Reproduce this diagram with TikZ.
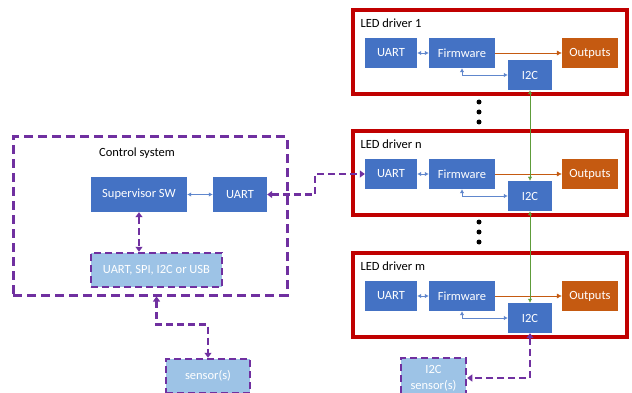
\documentclass[tikz,border=0pt]{standalone}
\usepackage{fontspec}
\setmainfont{Carlito}
\usepackage{tikz}
\usetikzlibrary{arrows.meta, calc, positioning}

\definecolor{boxblue}{HTML}{4472C4}
\definecolor{ltblue}{HTML}{9DC3E6}
\definecolor{busviolet}{HTML}{7030A0}
\definecolor{ledred}{HTML}{C00000}
\definecolor{outorange}{HTML}{C55A11}
\definecolor{i2cgreen}{HTML}{5E9C3A}

\begin{document}
\begin{tikzpicture}[x=1pt, y=-1pt, font=\fontsize{12.5}{16}\selectfont,
    blk/.style={fill=boxblue, text=white, minimum height=30pt, inner sep=0pt},
    outbox/.style={fill=outorange, text=white, minimum height=30pt, inner sep=0pt},
    ext/.style={fill=ltblue, draw=busviolet, line width=2.5pt, dash pattern=on 7pt off 4pt, text=white, inner sep=0pt},
    bus/.style={draw=busviolet, line width=2.5pt, dash pattern=on 7pt off 4pt,
        {Triangle[length=5pt,width=7pt]}-{Triangle[length=5pt,width=7pt]}},
    link/.style={boxblue!85, line width=0.9pt, {Latex[length=4pt,width=4.5pt]}-{Latex[length=4pt,width=4.5pt]}},
    ]
    \useasboundingbox (0,0) rectangle (632,393);

    % LED drivers
    \foreach \ty/\lbl/\id in {10/1/a, 131/n/b, 253/m/c} {
        \draw[ledred, line width=3.5pt, fill=white] (353,\ty) rectangle (627,\ty+84);
        \node[anchor=west] at (357,\ty+13) {LED driver \lbl};
        \node[blk, minimum width=52pt] (uart\id) at (391,\ty+43) {UART};
        \node[blk, minimum width=66pt] (fw\id) at (462,\ty+43) {Firmware};
        \node[outbox, minimum width=56pt] (out\id) at (590,\ty+43) {Outputs};
        \node[blk, minimum width=44pt] (i2c\id) at (530,\ty+65) {I2C};
        \draw[link] (uart\id) -- (fw\id);
        \draw[link] (fw\id.south) |- (i2c\id.west);
        \draw[outorange, -{Latex[length=5pt,width=5pt]}] (fw\id) -- (out\id);
    }
    \foreach \y in {102,112,122,222,232,242}
        \fill (479,\y) circle (2.5);
    \draw[i2cgreen, {Latex[length=4pt,width=4pt]}-{Latex[length=4pt,width=4pt]}] (i2ca) -- (i2cb);
    \draw[i2cgreen, {Latex[length=4pt,width=4pt]}-{Latex[length=4pt,width=4pt]}] (i2cb) -- (i2cc);

    % control system
    \node[draw=busviolet, line width=3pt, dash pattern=on 9pt off 5pt,
        minimum width=274pt, minimum height=158pt] (ctrl) at (150,216) {};
    \node at (137,153) {Control system};
    \node[blk, minimum width=96pt, minimum height=35pt] (sup) at (139,194.5) {Supervisor SW};
    \node[blk, minimum width=54pt, minimum height=35pt] (uartx) at (240,194.5) {UART};
    \node[ext, minimum width=131pt, minimum height=34pt] (iface) at (156.5,270) {UART, SPI, I2C or USB};
    \draw[link] (sup) -- (uartx);
    \draw[bus] (sup.south) -- (sup.south |- iface.north);
    \draw[bus] (uartx.east) -- ++(48,0) |- (uartb.west);

    % sensors
    \node[ext, minimum width=84pt, minimum height=34pt] (sens) at (208,376) {sensor(s)};
    \node[ext, minimum width=65pt, minimum height=40pt, align=center] (i2cs) at (433.5,378) {I2C\\sensor(s)};
    \draw[bus] (iface.south |- ctrl.south) -- ++(0,28) -| (sens.north);
    \draw[bus] (i2cc.south) |- (i2cs.east);
\end{tikzpicture}
\end{document}
